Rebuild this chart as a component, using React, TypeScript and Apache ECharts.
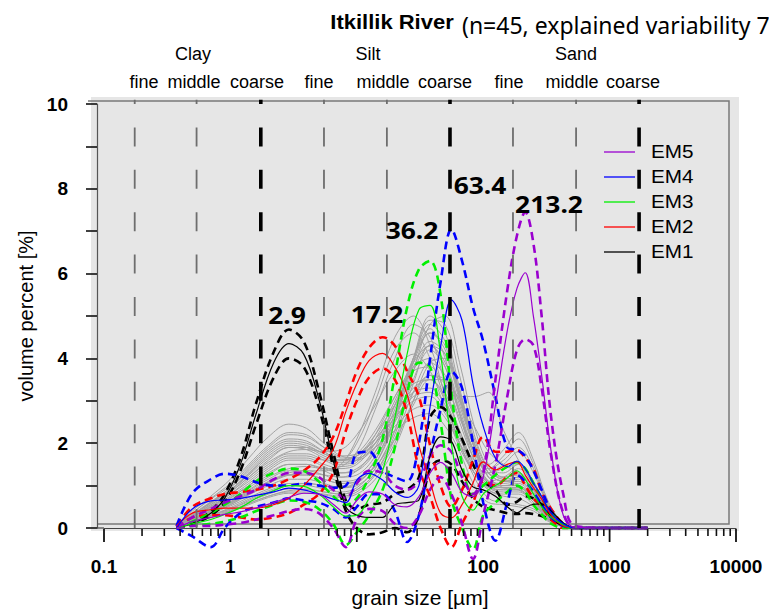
import { useEffect, useRef } from 'react';
import * as echarts from 'echarts';

// grain sizes (µm) at which the end-member curves were read
const emSizes = [0.375, 0.5, 0.7, 0.9, 1.2, 1.6, 2.2, 2.9, 3.8, 5, 6.5, 8.2, 10, 12.5, 16, 20, 25, 31, 38, 46, 56, 68, 83, 100, 125, 155, 185, 215, 250, 290, 345, 430, 530, 1000, 2000];

const em1 = [0.02, 0.1, 0.35, 0.7, 1.5, 2.7, 3.9, 4.35, 4.1, 3.05, 1.6, 0.5, 0.3, 0.25, 0.25, 0.55, 0.6, 0.66, 1.7, 2.15, 2.05, 1.37, 0.97, 0.9, 0.75, 0.5, 0.36, 0.48, 0.56, 0.57, 0.4, 0.12, 0, 0, 0];
const em1Hi = [0.02, 0.12, 0.4, 0.8, 1.65, 2.95, 4.15, 4.68, 4.4, 3.25, 1.8, 0.65, 0.45, 0.55, 0.6, 0.8, 0.9, 1.2, 2.6, 2.85, 2.6, 2.1, 1.5, 1.1, 0.9, 0.55, 0.62, 0.75, 0.7, 0.55, 0.25, 0.05, 0, 0, 0];
const em1Lo = [0, 0.08, 0.3, 0.6, 1.35, 2.45, 3.55, 4.0, 3.8, 2.85, 1.45, 0.4, 0.0, -0.15, -0.1, 0.0, -0.1, 0.3, 1.4, 1.6, 1.5, 1.1, 0.7, 0.5, 0.42, 0.35, 0.33, 0.35, 0.33, 0.28, 0.2, 0.05, 0, 0, 0];

const em2 = [0.05, 0.35, 0.43, 0.47, 0.47, 0.47, 0.55, 0.7, 1.0, 1.4, 1.85, 2.75, 3.4, 3.95, 4.12, 3.8, 3.15, 1.95, 1.1, 0.35, 0.24, 0.55, 1.06, 1.56, 1.37, 1.5, 1.56, 1.25, 0.95, 0.68, 0.3, 0.05, 0, 0, 0];
const em2Hi = [0.05, 0.5, 0.7, 0.8, 0.85, 0.9, 1.0, 1.15, 1.35, 1.65, 2.15, 2.95, 3.7, 4.25, 4.5, 4.3, 3.7, 3.1, 1.95, 1.0, 0.5, 0.9, 1.6, 2.15, 1.8, 1.8, 1.84, 1.65, 1.4, 0.85, 0.45, 0.1, 0, 0, 0];
const em2Lo = [0, 0.25, 0.3, 0.3, 0.25, 0.2, 0.25, 0.35, 0.55, 0.8, 1.3, 2.3, 3.0, 3.55, 3.77, 3.5, 2.7, 1.4, 0.74, 0.0, -0.45, 0.1, 0.6, 1.1, 1.0, 1.2, 1.3, 1.0, 0.7, 0.5, 0.2, 0, 0, 0, 0];

const em3 = [0, 0.1, 0.2, 0.32, 0.48, 0.7, 0.88, 1.0, 0.98, 0.8, 0.5, 0.28, 0.3, 0.7, 1.35, 2.6, 4.1, 5.15, 5.25, 4.1, 2.0, 0.75, 0.42, 0.8, 1.0, 1.18, 1.35, 1.15, 0.8, 0.5, 0.25, 0.08, 0, 0, 0];
const em3Hi = [0, 0.15, 0.35, 0.55, 0.8, 1.1, 1.3, 1.4, 1.35, 1.1, 0.75, 0.55, 0.7, 1.2, 2.1, 3.6, 5.2, 6.1, 6.3, 5.5, 3.2, 1.5, 0.8, 1.0, 1.25, 1.45, 1.55, 1.4, 1.05, 0.7, 0.35, 0.1, 0, 0, 0];
const em3Lo = [0, 0.05, 0.1, 0.15, 0.25, 0.4, 0.55, 0.65, 0.62, 0.45, 0.1, -0.4, -0.1, 0.3, 0.9, 1.9, 3.2, 3.9, 3.8, 2.5, 0.7, 0.0, -0.5, 0.3, 0.6, 0.85, 1.0, 0.85, 0.55, 0.32, 0.1, 0, 0, 0, 0];

const em4 = [0, 0.45, 0.64, 0.66, 0.7, 0.77, 0.85, 0.94, 0.9, 0.8, 0.68, 0.6, 1.13, 1.29, 1.13, 0.85, 0.72, 1.0, 2.86, 4.28, 5.38, 4.9, 3.4, 2.4, 1.65, 1.45, 1.58, 1.4, 1.05, 0.75, 0.35, 0.1, 0, 0, 0];
const em4Hi = [0.05, 0.82, 1.15, 1.28, 1.22, 1.08, 1.0, 1.0, 1.05, 1.0, 0.95, 1.0, 1.76, 1.8, 1.35, 1.2, 1.1, 2.0, 4.0, 5.8, 7.05, 6.3, 5.2, 4.4, 3.1, 1.9, 1.84, 1.7, 1.35, 0.9, 0.4, 0.1, 0, 0, 0];
const em4Lo = [0, -0.2, -0.45, 0.0, 0.35, 0.5, 0.6, 0.7, 0.65, 0.6, 0.45, 0.25, 0.5, 0.8, 0.8, 0.4, -0.33, 0.3, 1.7, 2.8, 3.7, 3.3, 2.0, 0.6, -0.3, 0.6, 1.25, 1.1, 0.85, 0.55, 0.25, 0.05, 0, 0, 0];

const em5 = [0, 0.15, 0.25, 0.32, 0.38, 0.47, 0.6, 0.72, 0.82, 0.8, 0.56, 0.35, 0.65, 0.85, 0.8, 0.55, 0.5, 0.74, 1.3, 1.55, 1.3, 0.85, 0.74, 1.2, 2.9, 4.65, 5.65, 6.02, 4.98, 3.6, 1.8, 0.3, 0.02, 0, 0];
const em5Hi = [0.02, 0.25, 0.45, 0.6, 0.75, 0.9, 1.15, 1.3, 1.3, 1.2, 0.9, 0.7, 1.05, 1.35, 1.3, 1.0, 0.9, 1.1, 1.7, 1.95, 1.8, 1.2, 0.8, 1.3, 3.5, 5.6, 6.9, 7.45, 6.7, 5.0, 2.6, 0.8, 0.05, 0, 0];
const em5Lo = [0, 0.05, 0.05, 0.08, 0.12, 0.2, 0.3, 0.4, 0.45, 0.35, 0.0, -0.45, 0.2, 0.45, 0.4, 0.1, 0.0, 0.3, 0.9, 1.2, 0.8, 0.1, -0.73, 0.3, 1.5, 3.1, 4.2, 4.45, 4.3, 3.3, 1.7, 0.35, 0, 0, 0];

// measured samples (grey curves)
const graySizes = [0.375, 0.5, 0.7, 1, 1.4, 2, 2.9, 4, 5.5, 7.5, 10, 14, 20, 28, 38, 50, 65, 85, 110, 145, 190, 250, 330, 450, 600, 1000, 2000];
const g1 = [0, .4, .75, 1.15, 1.65, 2.15, 2.45, 2.35, 2.0, 1.7, 1.65, 1.9, 2.3, 2.6, 2.7, 2.4, 1.8, 1.0, 0.6, 0.55, 0.5, 0.4, 0.15, 0.02, 0, 0, 0];
const g2 = [0, .35, .7, 1.05, 1.5, 1.95, 2.25, 2.2, 1.9, 1.65, 1.7, 2.0, 2.6, 3.0, 3.1, 2.7, 2.0, 1.2, 0.7, 0.6, 0.55, 0.45, 0.18, 0.02, 0, 0, 0];
const g3 = [0, .3, .6, .95, 1.4, 1.85, 2.1, 2.05, 1.8, 1.6, 1.7, 2.2, 2.9, 3.4, 3.5, 3.0, 2.2, 1.4, 0.95, 0.85, 0.85, 0.6, 0.2, 0.03, 0, 0, 0];
const g4 = [0, .3, .6, .9, 1.3, 1.75, 2.0, 1.95, 1.75, 1.6, 1.75, 2.3, 3.1, 3.7, 3.8, 3.2, 2.3, 1.5, 1.0, 0.9, 0.9, 0.6, 0.2, 0.03, 0, 0, 0];
const g5 = [0, .28, .55, .85, 1.2, 1.6, 1.9, 1.85, 1.65, 1.5, 1.6, 2.2, 3.1, 3.8, 4.0, 3.5, 2.5, 1.6, 1.1, 1.0, 1.0, 0.7, 0.25, 0.03, 0, 0, 0];
const g6 = [0, .25, .5, .8, 1.15, 1.5, 1.75, 1.75, 1.6, 1.45, 1.55, 2.1, 3.0, 3.9, 4.3, 3.8, 2.7, 1.7, 1.1, 0.95, 0.95, 0.65, 0.22, 0.03, 0, 0, 0];
const g7 = [0, .25, .5, .75, 1.05, 1.4, 1.65, 1.65, 1.5, 1.4, 1.5, 2.0, 2.9, 3.8, 4.4, 4.1, 3.0, 1.9, 1.2, 1.0, 1.0, 0.7, 0.25, 0.03, 0, 0, 0];
const g8 = [0, .22, .45, .7, 1.0, 1.35, 1.6, 1.6, 1.45, 1.3, 1.35, 1.8, 2.8, 3.9, 4.6, 4.3, 3.1, 1.9, 1.2, 1.0, 1.05, 0.75, 0.28, 0.04, 0, 0, 0];
const g9 = [0, .22, .42, .65, .95, 1.25, 1.5, 1.5, 1.35, 1.2, 1.25, 1.7, 2.7, 4.0, 4.8, 4.4, 3.2, 2.0, 1.3, 1.1, 1.1, 0.8, 0.3, 0.04, 0, 0, 0];
const g10 = [0, .2, .4, .6, .88, 1.15, 1.35, 1.35, 1.25, 1.1, 1.15, 1.6, 2.6, 4.0, 5.0, 4.6, 3.3, 2.0, 1.3, 1.1, 1.15, 0.85, 0.3, 0.04, 0, 0, 0];
const g11 = [0, .2, .38, .58, .82, 1.05, 1.25, 1.25, 1.15, 1.05, 1.1, 1.5, 2.5, 3.9, 4.9, 4.8, 3.6, 2.2, 1.4, 1.15, 1.2, 0.9, 0.35, 0.05, 0, 0, 0];
const g12 = [0, .18, .35, .55, .78, 1.0, 1.15, 1.15, 1.05, 0.95, 1.0, 1.4, 2.3, 3.7, 4.8, 5.0, 3.9, 2.4, 1.5, 1.2, 1.25, 0.95, 0.38, 0.05, 0, 0, 0];
const g13 = [0, .18, .35, .52, .72, .92, 1.05, 1.05, 1.0, 0.95, 1.05, 1.5, 2.6, 4.0, 4.7, 4.0, 2.7, 1.6, 1.1, 1.2, 1.4, 1.05, 0.4, 0.05, 0, 0, 0];
const g14 = [0, .15, .3, .48, .68, .88, 1.0, 1.0, 0.92, 0.85, 0.95, 1.4, 2.3, 3.5, 4.2, 3.8, 2.8, 1.8, 1.3, 1.5, 1.8, 1.3, 0.5, 0.06, 0, 0, 0];
const g15 = [0, .15, .3, .45, .62, .8, .92, .92, .85, .8, .9, 1.3, 2.1, 3.2, 3.9, 3.6, 2.7, 1.8, 1.4, 1.7, 2.1, 1.5, 0.55, 0.06, 0, 0, 0];
const g16 = [0, .15, .28, .42, .58, .75, .85, .85, .8, .75, .85, 1.25, 2.0, 3.0, 3.6, 3.4, 2.6, 1.8, 1.5, 1.85, 2.25, 1.6, 0.6, 0.07, 0, 0, 0];
const g17 = [0, .3, .58, .88, 1.25, 1.65, 1.9, 1.9, 1.75, 1.6, 1.7, 2.1, 2.7, 3.2, 3.3, 2.9, 2.2, 1.5, 1.1, 1.05, 1.1, 0.8, 0.3, 0.04, 0, 0, 0];
const g18 = [0, .32, .62, .95, 1.35, 1.8, 2.05, 2.0, 1.8, 1.6, 1.6, 1.9, 2.4, 2.8, 2.9, 2.6, 2.0, 1.5, 1.3, 1.4, 1.5, 1.1, 0.4, 0.05, 0, 0, 0];
const g19 = [0, .28, .52, .8, 1.1, 1.45, 1.7, 1.7, 1.6, 1.6, 2.0, 3.0, 4.2, 4.6, 4.0, 3.0, 2.0, 1.3, 0.9, 0.75, 0.7, 0.5, 0.18, 0.02, 0, 0, 0];
const g20 = [0, .2, .4, .62, .9, 1.2, 1.4, 1.45, 1.4, 1.45, 1.8, 2.8, 4.0, 4.8, 4.5, 3.4, 2.2, 1.3, 0.9, 0.8, 0.8, 0.55, 0.2, 0.02, 0, 0, 0];
const g21 = [0, .18, .36, .55, .8, 1.05, 1.25, 1.3, 1.25, 1.2, 1.35, 1.9, 2.9, 4.0, 4.6, 4.2, 3.1, 1.9, 1.2, 0.95, 0.9, 0.65, 0.25, 0.03, 0, 0, 0];
const g22 = [0, .25, .48, .72, 1.0, 1.3, 1.5, 1.5, 1.4, 1.3, 1.4, 1.8, 2.5, 3.2, 3.6, 3.5, 3.0, 2.4, 1.8, 1.5, 1.3, 0.9, 0.3, 0.04, 0, 0, 0];
const g23 = [0, .2, .38, .58, .82, 1.08, 1.25, 1.25, 1.15, 1.05, 1.1, 1.45, 2.1, 2.9, 3.5, 3.5, 3.1, 3.1, 3.2, 2.3, 1.6, 1.0, 0.35, 0.04, 0, 0, 0];
const g24 = [0, .35, .68, 1.0, 1.45, 1.9, 2.2, 2.15, 1.9, 1.7, 1.75, 2.1, 2.7, 3.3, 3.5, 3.1, 2.3, 1.5, 1.05, 0.95, 0.95, 0.7, 0.25, 0.03, 0, 0, 0];
const g25 = [0, .12, .25, .4, .58, .75, .88, .9, .85, .8, .9, 1.3, 2.2, 3.4, 4.3, 4.1, 3.1, 2.0, 1.3, 1.1, 1.2, 0.9, 0.35, 0.05, 0, 0, 0];
const g26 = [0, .12, .24, .38, .55, .72, .82, .82, .78, .72, .8, 1.15, 1.9, 3.0, 3.9, 4.0, 3.2, 2.1, 1.4, 1.3, 1.5, 1.1, 0.4, 0.05, 0, 0, 0];
const g27 = [0, .2, .4, .6, .85, 1.1, 1.3, 1.35, 1.35, 1.5, 2.1, 3.2, 4.5, 5.0, 4.3, 3.1, 2.0, 1.3, 0.95, 0.9, 0.9, 0.65, 0.22, 0.03, 0, 0, 0];
const g28 = [0, .28, .55, .85, 1.2, 1.55, 1.8, 1.85, 1.8, 1.85, 2.2, 2.9, 3.7, 4.1, 3.7, 2.8, 1.9, 1.3, 1.0, 0.95, 0.95, 0.7, 0.25, 0.03, 0, 0, 0];
const g29 = [0, .3, .6, .9, 1.28, 1.7, 1.95, 1.9, 1.7, 1.55, 1.6, 2.0, 2.6, 3.1, 3.2, 2.8, 2.1, 1.6, 1.4, 1.6, 1.9, 1.4, 0.5, 0.06, 0, 0, 0];
const g30 = [0, .15, .3, .45, .65, .85, 1.0, 1.05, 1.0, 0.95, 1.1, 1.6, 2.6, 3.7, 4.3, 3.9, 2.9, 1.9, 1.3, 1.2, 1.3, 0.95, 0.35, 0.04, 0, 0, 0];
const grayCurves = [g1, g2, g3, g4, g5, g6, g7, g8, g9, g10, g11, g12, g13, g14, g15, g16, g17, g18, g19, g20, g21, g22, g23, g24, g25, g26, g27, g28, g29, g30];

// grain-size class boundaries (µm), and which are main class limits
const classBoundaries = [0.175, 0.54, 1.74, 5.5, 17.3, 54.6, 172, 543, 1711];
const mainBoundary = [false, false, true, false, false, true, false, false, true];

// x-axis tick positions
const minorTickValues = [0.2, 0.3, 0.4, 0.5, 0.6, 0.7, 0.8, 0.9, 2, 3, 4, 5, 6, 7, 8, 9, 20, 30, 40, 50, 60, 70, 80, 90, 200, 300, 400, 500, 600, 700, 800, 900, 2000, 3000, 4000, 5000, 6000, 7000, 8000, 9000];
const majorTickValues = [0.1, 1, 10, 100, 1000, 10000];

const emNames = ['EM5', 'EM4', 'EM3', 'EM2', 'EM1'];
const emColors = ['#9a00cf', '#0000ff', '#00f000', '#ff0000', '#000000'];
const emMean = [em5, em4, em3, em2, em1];
const emHigh = [em5Hi, em4Hi, em3Hi, em2Hi, em1Hi];
const emLow = [em5Lo, em4Lo, em3Lo, em2Lo, em1Lo];

const peakLabels = ['2.9', '17.2', '36.2', '63.4', '213.2'];

const classGroups = ['Clay', 'Silt', 'Sand'];
const classSub = ['fine', 'middle', 'coarse', 'fine', 'middle', 'coarse', 'fine', 'middle', 'coarse'];

const SANS = '"Liberation Sans", Arial, sans-serif';
const CAL = '"Noto Sans", "Open Sans", sans-serif';

export default function App() {
  const ref = useRef<HTMLDivElement>(null);
  useEffect(() => {
    const chart = echarts.init(ref.current!, null, { renderer: 'svg' });
    const pair = (xs: number[], ys: number[]) => xs.map((x, i) => [x, ys[i]]);
    const series: any[] = [];

    grayCurves.forEach((c, i) => {
      series.push({
        type: 'line', name: 'sample' + (i + 1), data: pair(graySizes, c), smooth: 0.35,
        showSymbol: false, silent: true, z: 2, lineStyle: { color: '#a2a2a2', width: 1 },
      });
    });

    for (let k = emNames.length - 1; k >= 0; k--) {
      const col = emColors[k];
      series.push({
        type: 'line', name: emNames[k] + ' upper', data: pair(emSizes, emHigh[k]), smooth: 0.35,
        showSymbol: false, silent: true, clip: false, z: 3,
        lineStyle: { color: col, width: 2.6, type: [8, 5] },
      });
      series.push({
        type: 'line', name: emNames[k] + ' lower', data: pair(emSizes, emLow[k]), smooth: 0.35,
        showSymbol: false, silent: true, clip: false, z: 3,
        lineStyle: { color: col, width: 2.6, type: [8, 5] },
      });
      series.push({
        type: 'line', name: emNames[k], data: pair(emSizes, emMean[k]), smooth: 0.35,
        showSymbol: false, silent: true, z: 4, lineStyle: { color: col, width: 1.2 },
      });
    }

    classBoundaries.forEach((b, i) => {
      series.push({
        type: 'line', data: [[b, 0], [b, 10.1]], showSymbol: false, silent: true, clip: false, z: 5,
        lineStyle: mainBoundary[i]
          ? { color: '#000', width: 3.6, type: [19, 23.4] }
          : { color: '#6e6e6e', width: 1.8, type: [19, 23.4] },
      });
    });

    const graphic: any[] = [
      { type: 'rect', z: -10, silent: true, shape: { x: 91, y: 97, width: 648, height: 434 }, style: { fill: '#e6e6e6' } },
      { type: 'polyline', z: -9, silent: true, shape: { points: [[88, 101], [729, 101], [729, 524], [97, 524]] }, style: { stroke: '#7a7a7a', lineWidth: 1.5, fill: 'none' } },
      { type: 'line', z: 1, silent: true, shape: { x1: 97, y1: 528, x2: 104, y2: 528 }, style: { stroke: '#444', lineWidth: 1.2 } },
      { type: 'text', z: 10, x: 392, y: 22, scaleX: 1.1, style: { text: 'Itkillik River', x: 0, y: 0, textAlign: 'center', textVerticalAlign: 'middle', fontFamily: SANS, fontWeight: 'bold', fontSize: 20, fill: '#000' } },
      { type: 'text', z: 10, x: 462, y: 25, style: { text: '(n=45, explained variability 7', x: 0, y: 0, textAlign: 'left', textVerticalAlign: 'middle', fontFamily: CAL, fontSize: 23, fill: '#000' } },
    ];
    const groupX = [193, 368, 576];
    classGroups.forEach((t, i) => graphic.push({ type: 'text', z: 10, x: groupX[i], y: 54, style: { text: t, x: 0, y: 0, textAlign: 'center', textVerticalAlign: 'middle', fontFamily: SANS, fontSize: 18, fill: '#000' } }));
    const subX = [144, 194, 257, 319, 383, 445, 509, 572, 633];
    classSub.forEach((t, i) => graphic.push({ type: 'text', z: 10, x: subX[i], y: 82, style: { text: t, x: 0, y: 0, textAlign: 'center', textVerticalAlign: 'middle', fontFamily: SANS, fontSize: 18, fill: '#000' } }));
    const peakPos = [[287, 314], [377, 313], [412, 229], [480, 184], [549, 203]];
    peakLabels.forEach((t, i) => graphic.push({ type: 'text', z: 10, x: peakPos[i][0], y: peakPos[i][1], scaleX: 1.1, style: { text: t, x: 0, y: 0, textAlign: 'center', textVerticalAlign: 'middle', fontFamily: CAL, fontWeight: 'bold', fontSize: 24, fill: '#000' } }));
    emNames.forEach((n, i) => {
      const y = 152 + i * 25;
      graphic.push({ type: 'line', z: 10, shape: { x1: 604, y1: y, x2: 635, y2: y }, style: { stroke: emColors[i], lineWidth: 1.3 } });
      graphic.push({ type: 'text', z: 10, x: 651, y: y, scaleX: 1.15, style: { text: n, x: 0, y: 0, textAlign: 'left', textVerticalAlign: 'middle', fontFamily: SANS, fontSize: 18, fill: '#000' } });
    });

    chart.setOption({
      animation: false,
      backgroundColor: '#ffffff',
      grid: { left: 104, right: 33, top: 104, bottom: 85, outerBoundsMode: 'none' },
      xAxis: {
        type: 'log', logBase: 10, min: 0.1, max: 10000,
        axisLine: { show: true, lineStyle: { color: '#444', width: 1.2 } },
        axisTick: { show: false },
        splitLine: { show: false },
        axisLabel: { formatter: (v: number) => String(+Number(v).toPrecision(6)), fontSize: 19, fontWeight: 'bold', fontFamily: SANS, color: '#000', margin: 29 },
        name: 'grain size [µm]', nameLocation: 'middle', nameGap: 59,
        nameTextStyle: { fontSize: 21, fontFamily: SANS, color: '#000' },
      },
      yAxis: {
        type: 'value', min: 0, max: 10, interval: 2, offset: 7,
        axisLine: { show: true, lineStyle: { color: '#555', width: 1.2 } },
        axisTick: { show: true, length: 11, lineStyle: { color: '#111', width: 1.6 } },
        minorTick: { show: true, splitNumber: 2, length: 11, lineStyle: { color: '#111', width: 1.6 } },
        splitLine: { show: false },
        axisLabel: { fontSize: 19, fontWeight: 'bold', fontFamily: SANS, color: '#000', margin: 29 },
        name: 'volume percent [%]', nameLocation: 'middle', nameGap: 56,
        nameTextStyle: { fontSize: 20, fontFamily: SANS, color: '#000' },
      },
      graphic,
      series,
    });

    // x-axis ticks below the axis line, placed through the log scale of the x axis
    const y0 = chart.convertToPixel({ yAxisIndex: 0 }, 0) as number;
    const tickEls: any[] = [];
    minorTickValues.forEach((v) => {
      const px = chart.convertToPixel({ xAxisIndex: 0 }, v) as number;
      tickEls.push({ type: 'rect', z: 20, silent: true, shape: { x: px - 0.8, y: y0 + 1, width: 1.6, height: 7 }, style: { fill: '#111' } });
    });
    majorTickValues.forEach((v) => {
      const px = chart.convertToPixel({ xAxisIndex: 0 }, v) as number;
      tickEls.push({ type: 'rect', z: 20, silent: true, shape: { x: px - 0.9, y: y0 + 1, width: 1.8, height: 13 }, style: { fill: '#111' } });
    });
    chart.setOption({ graphic: [...graphic, ...tickEls] });

    return () => chart.dispose();
  }, []);
  return <div ref={ref} style={{ position: 'absolute', left: 0, top: 0, width: 769, height: 613 }} />;
}
